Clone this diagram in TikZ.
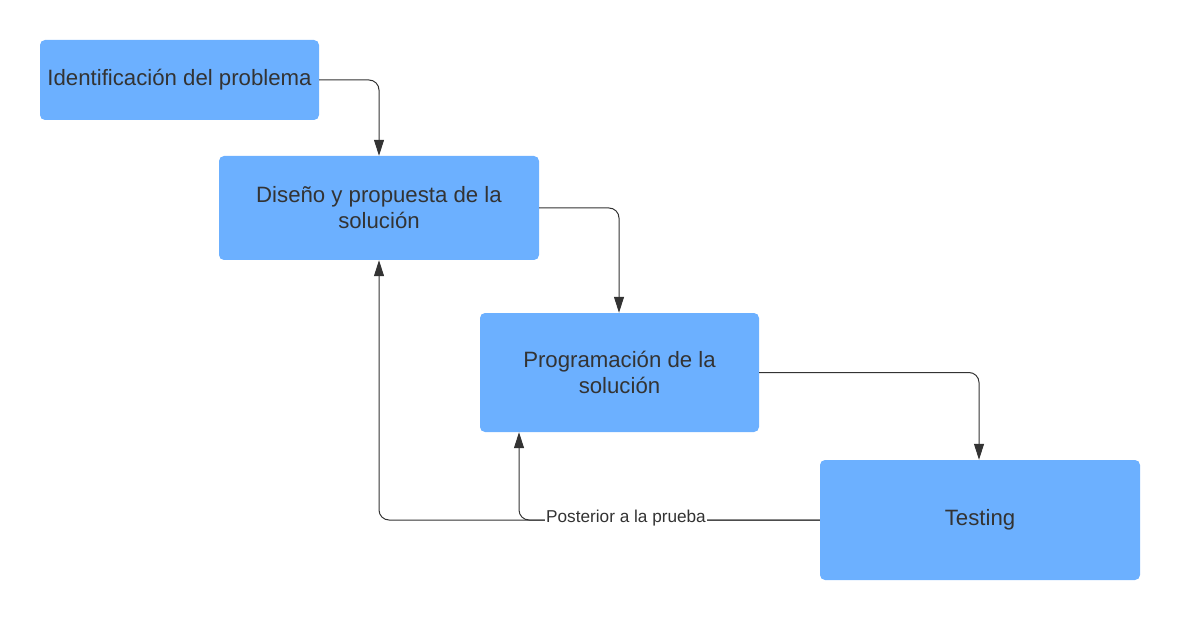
\documentclass[tikz,border=0pt]{standalone}
\usepackage{fontspec}
\setmainfont{Liberation Sans}
\usetikzlibrary{arrows.meta}
\definecolor{boxblue}{HTML}{6CB0FF}
\definecolor{ink}{HTML}{333333}
\begin{document}
\begin{tikzpicture}[x=1pt,y=-1pt,
  stepbox/.style={fill=boxblue, draw=none, rounded corners=5pt, text=ink,
    font=\fontsize{22.2}{26}\selectfont, align=center, inner sep=0pt},
  conn/.style={draw=ink, line width=1pt, rounded corners=10pt,
    -{Triangle[width=10pt,length=16pt]}},
  lbl/.style={fill=white, text=ink, font=\fontsize{17.2}{18}\selectfont, inner sep=1pt}]
\useasboundingbox (0,0) rectangle (1180,620);
\node[stepbox, minimum width=279pt, minimum height=80pt] (a) at (179.5,80) {Identificación del problema};
\node[stepbox, minimum width=320pt, minimum height=104pt] (b) at (379,208) {Diseño y propuesta de la\\solución};
\node[stepbox, minimum width=279pt, minimum height=119pt] (c) at (619.5,372.5) {Programación de la\\solución};
\node[stepbox, minimum width=320pt, minimum height=120pt] (d) at (980,520) {Testing};
\draw[conn] (a.east) -| (379,0 |- b.north);
\draw[conn] (b.east) -| (619,0 |- c.north);
\draw[conn] (c.east) -| (979,0 |- d.north);
\draw[conn] (d.west) -| (379,0 |- b.south);
\draw[conn] (d.west) -| (519,0 |- c.south);
\node[lbl] (l) at (626,518) {Posterior a la prueba};
\end{tikzpicture}
\end{document}
